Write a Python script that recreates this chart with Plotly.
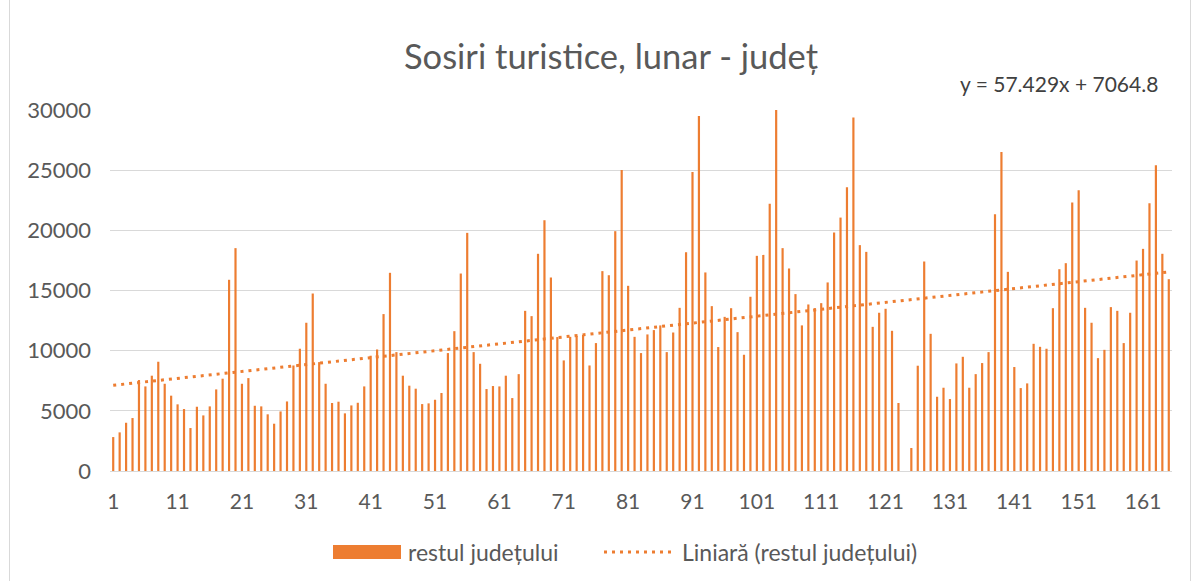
import plotly.graph_objects as go

# ---- data ----
values = [
    2820, 3210, 4010, 4400, 7560, 7030, 7920, 9080, 7250, 6260,      # 1-10
    5540, 5150, 3570, 5340, 4620, 5370, 6780, 7670, 15890, 18520,    # 11-20
    7250, 7720, 5420, 5370, 4710, 3930, 4950, 5780, 8770, 10160,     # 21-30
    12320, 14750, 9050, 7250, 5650, 5760, 4790, 5450, 5670, 7030,    # 31-40
    9580, 10100, 13040, 16470, 9880, 7920, 7090, 6840, 5560, 5620,   # 41-50
    5920, 6480, 9800, 11620, 16410, 19790, 9880, 8910, 6810, 7060,   # 51-60
    7030, 7920, 6060, 8050, 13310, 12870, 18050, 20840, 16080, 11130,  # 61-70
    9190, 11150, 11210, 11300, 8770, 10630, 16610, 16270, 19930, 25020,  # 71-80
    15390, 11150, 9800, 11350, 11710, 12100, 9880, 11510, 13560, 18180,  # 81-90
    24850, 29500, 16500, 13700, 10300, 12810, 13530, 11540, 9660, 14480,  # 91-100
    17880, 17960, 22200, 30060, 18520, 16830, 14700, 12100, 13840, 13530,  # 101-110
    13950, 15670, 19820, 21060, 23580, 29370, 18770, 18210, 11980, 13150,  # 111-120
    13480, 11650, 5650, 0, 1910, 8750, 17410, 11400, 6170, 6920,     # 121-130
    5980, 8940, 9490, 6920, 8050, 8970, 9880, 21340, 26520, 16550,   # 131-140
    8640, 6890, 7280, 10570, 10320, 10160, 13530, 16770, 17270, 22310,  # 141-150
    23330, 13560, 12320, 9380, 10070, 13620, 13310, 10630, 13150, 17490,  # 151-160
    18460, 22250, 25410, 18050, 15940,                               # 161-165
]
categories = list(range(1, len(values) + 1))
tick_values = list(range(1, 166, 10))
y_ticks = [0, 5000, 10000, 15000, 20000, 25000, 30000]

series_name = "restul județului"
trend_name = "Liniară (restul județului)"
title_text = "Sosiri turistice, lunar - județ"
trend_slope = 57.429
trend_intercept = 7064.8
equation_text = "y = 57.429x + 7064.8"

# ---- styles ----
ORANGE = "#ED7D31"
GRID = "#D9D9D9"
TEXT = "#595959"
FONT = "Lato"

trend_y = [trend_slope * c + trend_intercept for c in categories]

fig = go.Figure()
fig.add_trace(go.Bar(
    x=categories, y=values, name=series_name,
    marker=dict(color=ORANGE, line=dict(width=0)),
    width=0.34, showlegend=False,
))
fig.add_trace(go.Scatter(
    x=categories, y=trend_y, mode="lines", name=trend_name,
    line=dict(color=ORANGE, width=3, dash="3px,5px"),
    showlegend=False, hoverinfo="skip",
))

# plot area geometry (pixels) used for paper-coordinate placement
L, R, T, B = 110, 1172, 110, 471
W, H = R - L, B - T


def px(x):
    return (x - L) / W


def py(y):
    return (B - y) / H


shapes = [
    # legend: bar swatch
    dict(type="rect", xref="paper", yref="paper",
         x0=px(333), x1=px(401), y0=py(559), y1=py(545),
         fillcolor=ORANGE, line=dict(width=0)),
    # legend: dotted trend swatch
    dict(type="line", xref="paper", yref="paper",
         x0=px(604), x1=px(674), y0=py(552), y1=py(552),
         line=dict(color=ORANGE, width=3, dash="3px,5px")),
    # chart border (left/right)
    dict(type="line", xref="paper", yref="paper",
         x0=px(9.5), x1=px(9.5), y0=py(0), y1=py(600),
         line=dict(color=GRID, width=1)),
    dict(type="line", xref="paper", yref="paper",
         x0=px(1190.5), x1=px(1190.5), y0=py(0), y1=py(600),
         line=dict(color=GRID, width=1)),
]

annotations = [
    dict(text=series_name, xref="paper", yref="paper", x=px(406), y=py(552),
         xanchor="left", yanchor="middle", showarrow=False,
         font=dict(family=FONT, size=23, color=TEXT)),
    dict(text=trend_name, xref="paper", yref="paper", x=px(680), y=py(552),
         xanchor="left", yanchor="middle", showarrow=False,
         font=dict(family=FONT, size=23, color=TEXT)),
    dict(text=equation_text, xref="paper", yref="paper", x=px(1160), y=py(83),
         xanchor="right", yanchor="middle", showarrow=False,
         font=dict(family=FONT, size=21, color="#404040")),
]

fig.update_layout(
    width=1200, height=581,
    margin=dict(l=L, r=1200 - R, t=T, b=581 - B),
    paper_bgcolor="white", plot_bgcolor="white",
    title=dict(text=title_text, x=611 / 1200, xref="container", xanchor="center",
               y=1 - 57 / 581, yref="container", yanchor="middle",
               font=dict(family=FONT, size=34.5, color=TEXT)),
    font=dict(family=FONT, color=TEXT),
    bargap=0.66,
    shapes=shapes,
    annotations=annotations,
    showlegend=False,
)
fig.update_xaxes(
    range=[0.5, len(values) + 0.5],
    tickmode="array", tickvals=tick_values,
    tickfont=dict(family=FONT, size=21, color=TEXT),
    showgrid=False, showline=True, linecolor=GRID, linewidth=1,
    ticks="", ticklabelstandoff=12, zeroline=False,
)
fig.update_yaxes(
    range=[0, 30000], tickmode="array", tickvals=y_ticks,
    tickformat="d",
    tickfont=dict(family=FONT, size=22, color=TEXT),
    showgrid=True, gridcolor=GRID, gridwidth=1,
    zeroline=False, showline=False, ticks="", ticklabelstandoff=18,
)

fig.write_html("out.html", config={"displayModeBar": False},
               post_script="document.body.style.margin='0';")
